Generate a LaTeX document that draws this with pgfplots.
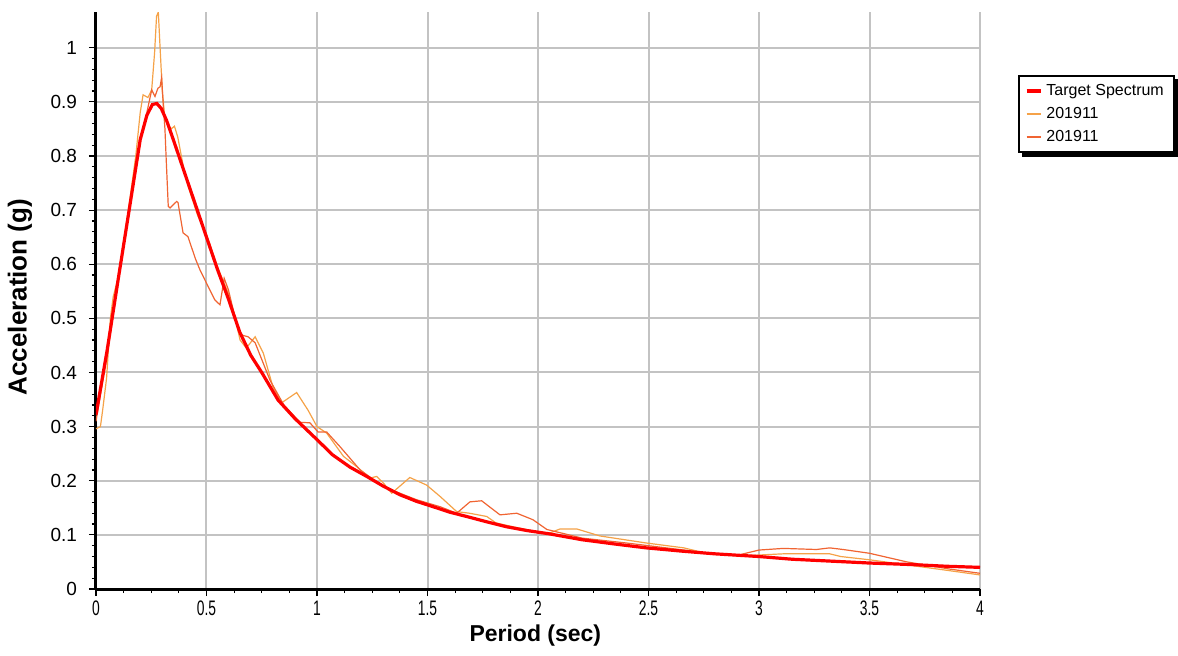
\documentclass[border=0pt]{standalone}
\usepackage{fontspec}
\setmainfont{Liberation Sans}
\usepackage{pgfplots}
\pgfplotsset{compat=1.18}
\pgfdeclarelayer{background}
\pgfsetlayers{background,main}
\definecolor{tgtred}{RGB}{255,0,0}
\definecolor{lightor}{RGB}{245,162,72}
\definecolor{darkor}{RGB}{240,100,50}
\definecolor{gridgray}{RGB}{195,195,195}
\begin{document}
\begin{tikzpicture}
\begin{axis}[
  name=ax,
  scale only axis,
  width=442pt, height=288.5pt,
  xmin=0, xmax=4, ymin=0, ymax=1.066,
  axis x line*=bottom, axis y line*=left,
  axis line style={line width=1.5pt, black},
  xtick={0,0.5,...,4}, ytick={0,0.1,...,1.0},
  minor x tick num=3, minor y tick num=4,
  tick align=outside,
  major tick length=3.5pt, minor tick length=2pt,
  tick style={black, line width=0.6pt},
  xmajorgrids, ymajorgrids,
  major grid style={gridgray, line width=1pt},
  /pgf/number format/assume math mode=true,
  yticklabel style={font=\fontsize{9.5}{11}\selectfont, xshift=-2.5pt},
  xticklabel={\scalebox{0.66}[1]{\fontsize{10.5}{12}\selectfont\pgfmathprintnumber{\tick}}},
  xticklabel style={yshift=1pt},
  xlabel={\textbf{Period (sec)}},
  ylabel={\textbf{Acceleration (g)}},
  xlabel style={font=\fontsize{11.5}{13}\selectfont, at={(axis description cs:0.497,-0.08)}, anchor=center},
  ylabel style={font=\fontsize{13}{15}\selectfont, at={(axis description cs:-0.086,0.506)}, anchor=center, rotate=0},
  legend cell align=left,
  legend style={at={(1.043,0.891)}, anchor=north west,
    draw=black, line width=1pt, fill=white,
    font=\fontsize{8}{9.5}\selectfont,
    inner xsep=3pt, inner ysep=2pt, row sep=0.5pt, name=leg},
  legend image code/.code={\draw[#1] (0cm,0cm) -- (0.25cm,0cm);},
]
\addlegendimage{tgtred, line width=1.6pt}
\addlegendentry{Target Spectrum}
\addlegendimage{lightor, line width=1pt}
\addlegendentry{201911}
\addlegendimage{darkor, line width=1pt}
\addlegendentry{201911}

% record 1 (light orange)
\addplot[lightor, line width=0.6pt, forget plot] coordinates {
(0,0.296) (0.02,0.30) (0.03,0.33) (0.048,0.39) (0.065,0.50) (0.078,0.54)
(0.10,0.575) (0.15,0.71) (0.18,0.80) (0.20,0.88) (0.213,0.913) (0.235,0.908)
(0.252,0.922) (0.265,0.99) (0.274,1.058) (0.282,1.066) (0.29,1.0) (0.30,0.92)
(0.312,0.867) (0.34,0.85) (0.355,0.855) (0.37,0.835) (0.40,0.77) (0.42,0.74)
(0.46,0.69) (0.50,0.655) (0.55,0.595) (0.60,0.545) (0.63,0.50) (0.652,0.46)
(0.68,0.445) (0.72,0.466) (0.757,0.436) (0.80,0.374) (0.84,0.344) (0.908,0.363)
(0.96,0.33) (1.0,0.30) (1.044,0.288) (1.12,0.245) (1.18,0.226) (1.24,0.205)
(1.27,0.208) (1.30,0.196) (1.338,0.177) (1.42,0.206) (1.496,0.192) (1.557,0.171)
(1.632,0.143) (1.69,0.14) (1.768,0.134) (1.81,0.122) (1.887,0.115) (1.97,0.108)
(2.05,0.103) (2.10,0.111) (2.175,0.111) (2.28,0.098) (2.49,0.085) (2.66,0.076)
(2.75,0.067) (2.91,0.061) (3.11,0.065) (3.32,0.065) (3.37,0.06) (3.50,0.054)
(3.68,0.044) (3.86,0.034) (4.0,0.026)
};
% record 2 (dark orange)
\addplot[darkor, line width=0.6pt, forget plot] coordinates {
(0,0.31) (0.05,0.43) (0.10,0.57) (0.15,0.70) (0.20,0.83) (0.23,0.88)
(0.252,0.922) (0.267,0.91) (0.28,0.925) (0.29,0.928) (0.297,0.945) (0.305,0.89)
(0.312,0.85) (0.317,0.80) (0.327,0.707) (0.335,0.704) (0.365,0.716) (0.371,0.714)
(0.394,0.658) (0.416,0.651) (0.45,0.61) (0.47,0.59) (0.50,0.565) (0.538,0.534)
(0.561,0.525) (0.58,0.574) (0.599,0.553) (0.63,0.50) (0.652,0.47) (0.688,0.466)
(0.72,0.455) (0.787,0.386) (0.85,0.34) (0.923,0.308) (0.968,0.307) (1.005,0.29)
(1.044,0.29) (1.104,0.263) (1.195,0.22) (1.30,0.189) (1.45,0.165) (1.557,0.152)
(1.632,0.14) (1.692,0.161) (1.745,0.163) (1.828,0.137) (1.904,0.14) (1.977,0.128)
(2.04,0.110) (2.2,0.094) (2.4,0.085) (2.66,0.072) (2.78,0.065) (2.91,0.063)
(3.0,0.072) (3.11,0.075) (3.26,0.073) (3.32,0.076) (3.38,0.073) (3.50,0.066)
(3.67,0.05) (3.86,0.037) (4.0,0.029)
};
% target spectrum
\addplot[tgtred, line width=1.6pt, forget plot] coordinates {
(0,0.322) (0.05,0.44) (0.10,0.571) (0.15,0.70) (0.20,0.830) (0.23,0.875)
(0.255,0.895) (0.275,0.897) (0.295,0.888) (0.32,0.865) (0.35,0.83) (0.40,0.77)
(0.45,0.71) (0.50,0.650) (0.55,0.59) (0.60,0.535) (0.65,0.475) (0.70,0.432)
(0.75,0.40) (0.824,0.349) (0.90,0.315) (1.0,0.276) (1.07,0.248) (1.15,0.225)
(1.225,0.208) (1.30,0.19) (1.376,0.174) (1.45,0.162) (1.526,0.152) (1.60,0.142)
(1.677,0.134) (1.76,0.125) (1.858,0.115) (1.95,0.108) (2.05,0.102) (2.2,0.091)
(2.35,0.083) (2.49,0.076) (2.65,0.070) (2.8,0.065) (3.0,0.060) (3.15,0.055)
(3.3,0.052) (3.5,0.048) (3.7,0.045) (3.85,0.042) (4.0,0.040)
};
\end{axis}
% legend drop shadow
\begin{pgfonlayer}{background}
\fill[black] ([shift={(2pt,-2pt)}]leg.south west) rectangle ([shift={(2pt,-2pt)}]leg.north east);
\end{pgfonlayer}
% page frame matching the reference margins
\pgfresetboundingbox
\path ([shift={(-48pt,-33pt)}]ax.south west) rectangle ([shift={(99pt,6pt)}]ax.north east);
\end{tikzpicture}
\end{document}
